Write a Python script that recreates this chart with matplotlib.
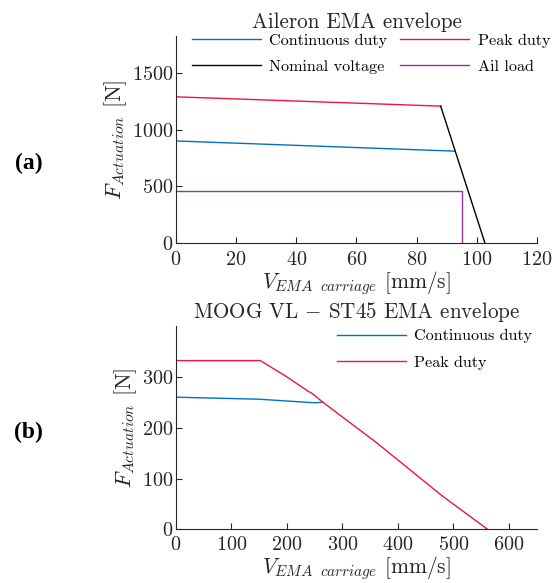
import matplotlib
matplotlib.use("Agg")
import matplotlib.pyplot as plt

plt.rcParams["mathtext.fontset"] = "cm"
plt.rcParams["font.family"] = "serif"
plt.rcParams["font.serif"] = ["cmr10"]
plt.rcParams["axes.formatter.use_mathtext"] = True
plt.rcParams["axes.unicode_minus"] = False

BLUE = "#0072BD"
RED = "#F0143C"
BLACK = "#000000"
PURPLE = "#8E3A9C"
DARK = "#262626"

# (a) Aileron EMA envelope
ail_cont_v = [0, 92.5]
ail_cont_f = [902, 812]
ail_peak_v = [0, 88]
ail_peak_f = [1292, 1210]
ail_nom_v = [88, 102.7]
ail_nom_f = [1210, 0]
ail_load_v = [0, 95.2, 95.2]
ail_load_f = [458, 458, 0]

# (b) MOOG VL - ST45 EMA envelope
moog_cont_v = [0, 150, 250, 265]
moog_cont_f = [260, 256, 249, 250]
moog_peak_v = [0, 152, 200, 238, 246, 265, 360, 480, 562]
moog_peak_f = [332, 332, 300, 272, 267, 250, 172, 66, 0]

XLABEL = r"$V_{EMA\ \ carriage}$ [mm/s]"
YLABEL = r"$F_{Actuation}$ [N]"


def style_axes(ax, xpad=6):
    for side in ("top", "right"):
        ax.spines[side].set_visible(False)
    for side in ("left", "bottom"):
        ax.spines[side].set_color(DARK)
        ax.spines[side].set_linewidth(0.8)
    ax.tick_params(direction="in", length=4, width=0.8, colors=DARK,
                   labelsize=14.5, labelcolor=DARK)
    ax.tick_params(axis="x", pad=xpad)
    ax.tick_params(axis="y", pad=2)


legend_kw = dict(frameon=False, fontsize=11.6, handlelength=4.3, handletextpad=0.5,
                 labelspacing=0.75, borderpad=0, borderaxespad=0, loc="upper left")

fig = plt.figure(figsize=(5.55, 5.83), dpi=100)

ax1 = fig.add_axes([0.317, 0.5832, 0.6505, 0.3551])
l_cont, = ax1.plot(ail_cont_v, ail_cont_f, color=BLUE, lw=1.0)
l_peak, = ax1.plot(ail_peak_v, ail_peak_f, color=RED, lw=1.0)
l_nom, = ax1.plot(ail_nom_v, ail_nom_f, color=BLACK, lw=1.0)
l_ail, = ax1.plot(ail_load_v, ail_load_f, color=PURPLE, lw=1.0)
ax1.set_xlim(0, 120)
ax1.set_ylim(0, 1830)
ax1.set_xticks(range(0, 121, 20))
ax1.set_yticks([0, 500, 1000, 1500])
style_axes(ax1)
ax1.set_title("Aileron EMA envelope", fontsize=15.2, color=DARK, pad=6)
ax1.set_xlabel(XLABEL, fontsize=15.5, color=DARK, labelpad=0)
ax1.set_ylabel(YLABEL, fontsize=16, color=DARK, labelpad=2)
# row-wise order: continuous / peak, nominal / ail load
ax1.legend([l_cont, l_nom, l_peak, l_ail],
           ["Continuous duty", "Nominal voltage", "Peak duty", "Ail load"],
           ncol=2, columnspacing=0.8, bbox_to_anchor=(0.044, 1.012), **legend_kw)

ax2 = fig.add_axes([0.317, 0.092, 0.6505, 0.3488])
ax2.plot(moog_cont_v, moog_cont_f, color=BLUE, lw=1.0, label="Continuous duty")
ax2.plot(moog_peak_v, moog_peak_f, color=RED, lw=1.0, label="Peak duty")
ax2.set_xlim(0, 651)
ax2.set_ylim(0, 400)
ax2.set_xticks(range(0, 601, 100))
ax2.set_yticks([0, 100, 200, 300])
style_axes(ax2, xpad=5)
ax2.set_title(r"MOOG VL $-$ ST45 EMA envelope", fontsize=15.2, color=DARK, pad=6)
ax2.set_xlabel(XLABEL, fontsize=15.5, color=DARK, labelpad=0)
ax2.set_ylabel(YLABEL, fontsize=16, color=DARK, labelpad=2)
ax2.legend(bbox_to_anchor=(0.446, 0.985), **legend_kw)

fig.text(0.052, 1 - 163 / 583, "(a)", fontsize=17, fontweight="bold",
         family="Liberation Serif", va="center", ha="center", color="black")
fig.text(0.052, 1 - 432 / 583, "(b)", fontsize=17, fontweight="bold",
         family="Liberation Serif", va="center", ha="center", color="black")

fig.savefig("out.png", dpi=100)
